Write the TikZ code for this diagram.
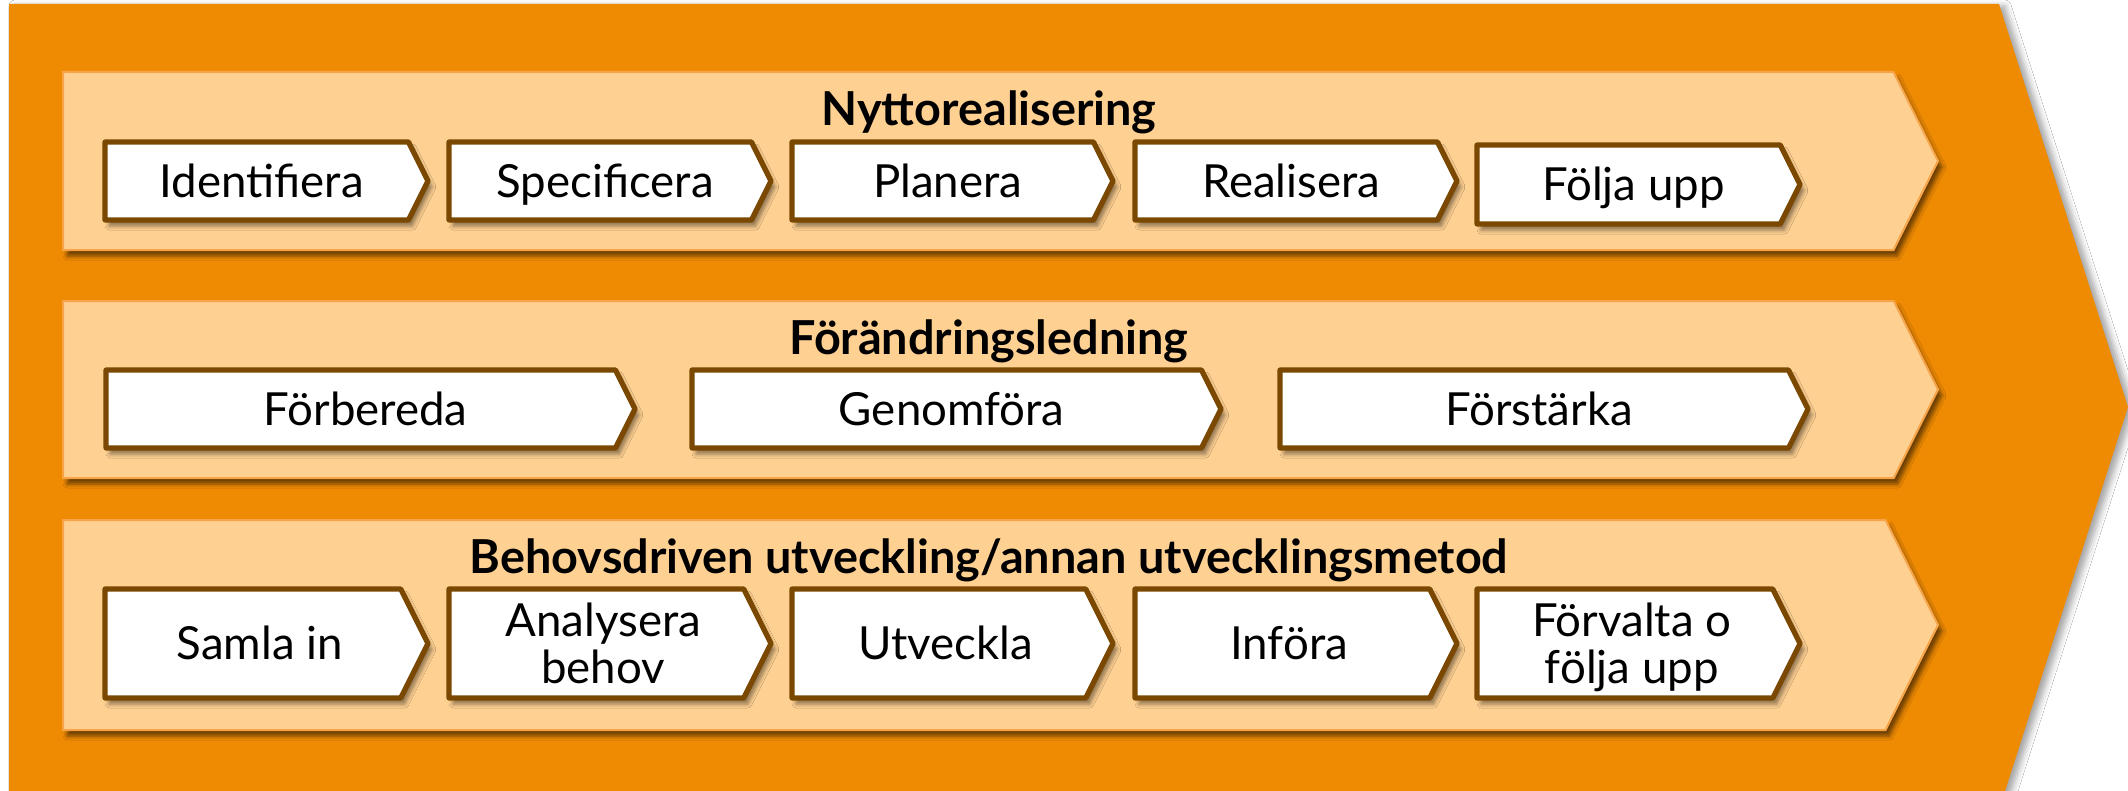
\documentclass[tikz,border=0pt]{standalone}
\usepackage{fontspec}
\setmainfont{Lato}
\usetikzlibrary{shadows.blur}
\definecolor{outerorange}{HTML}{EF8A03}
\definecolor{bandfill}{HTML}{FED092}
\definecolor{bandedge}{HTML}{F7A348}
\definecolor{boxedge}{HTML}{7A4800}
\tikzset{
  outerarrow/.style={fill=outerorange, blur shadow={shadow xshift=3pt, shadow yshift=-1pt, shadow opacity=35, shadow blur radius=3pt}},
  bandshape/.style={fill=bandfill, draw=bandedge, line width=1pt, blur shadow={shadow xshift=2pt, shadow yshift=-3pt, shadow opacity=55, shadow blur radius=2pt}},
  procbox/.style={fill=white, draw=boxedge, line width=2.6pt, line join=round, blur shadow={shadow xshift=2pt, shadow yshift=-3pt, shadow opacity=45, shadow blur radius=2pt}},
  boxtext/.style={font=\fontsize{22.8}{23.5}\selectfont, align=center, inner sep=0pt, text height=16.2pt, text depth=0pt},
  twoline/.style={text height=39.7pt},
  titletext/.style={font=\fontsize{23.4}{25}\selectfont\bfseries, inner sep=0pt, text height=16.6pt, text depth=0pt},
}
% #1 style, #2 left x, #3 top y, #4 tip x, #5 bottom y
\newcommand{\chevshape}[5]{%
  \pgfmathsetmacro{\chvoff}{(#5-#3)/4}%
  \path[#1] (#2,#3) -- ({#4-\chvoff},#3) -- (#4,{(#3+#5)/2}) -- ({#4-\chvoff},#5) -- (#2,#5) -- cycle;%
}
% #1 name, #2 left x, #3 top y, #4 tip x, #5 bottom y, #6 text, #7 extra style
\newcommand{\stepchev}[7]{%
  \chevshape{procbox}{#2}{#3}{#4}{#5}%
  \pgfmathsetmacro{\chvx}{(#2+#4)/2-(#5-#3)/16}%
  \pgfmathsetmacro{\chvy}{(#3+#5)/2}%
  \node[boxtext,#7] (#1) at (\chvx,\chvy) {#6};%
}
\begin{document}
\begin{tikzpicture}[x=0.5pt,y=-0.5pt]
  \useasboundingbox (0,0) rectangle (2128,791);
  \fill[white] (0,0) rectangle (2128,791);
  \clip (0,0) rectangle (2128,791);
  % outer arrow
  \path[outerarrow] (9,4) -- (1999,4) -- (2128,407) -- (1999,810) -- (9,810) -- cycle;
  % bands
  \chevshape{bandshape}{63}{72}{1938}{250}
  \chevshape{bandshape}{63}{301}{1938}{478}
  \chevshape{bandshape}{63}{520}{1938}{730}
  \node[titletext] (t1) at (989,109) {Nyttorealisering};
  \node[titletext] (t2) at (989,338) {Förändringsledning};
  \node[titletext] (t3) at (989,557) {Behovsdriven utveckling/annan utvecklingsmetod};
  % row 1
  \stepchev{a1}{105}{142}{428}{220}{Identifiera}{}
  \stepchev{a2}{449}{142}{771}{220}{Specificera}{}
  \stepchev{a3}{792}{142}{1113}{220}{Planera}{}
  \stepchev{a4}{1135}{142}{1457}{220}{Realisera}{}
  \stepchev{a5}{1477}{145}{1800}{224}{Följa upp}{}
  % row 2
  \stepchev{b1}{106}{370}{635}{448}{Förbereda}{}
  \stepchev{b2}{692}{370}{1221}{448}{Genomföra}{}
  \stepchev{b3}{1280}{370}{1808}{448}{Förstärka}{}
  % row 3
  \stepchev{c1}{105}{589}{428}{698}{Samla in}{}
  \stepchev{c2}{449}{589}{771}{698}{Analysera\\behov}{twoline}
  \stepchev{c3}{792}{589}{1113}{698}{Utveckla}{}
  \stepchev{c4}{1135}{589}{1457}{698}{Införa}{}
  \stepchev{c5}{1477}{589}{1800}{698}{Förvalta o\\följa upp}{twoline}
\end{tikzpicture}
\end{document}
